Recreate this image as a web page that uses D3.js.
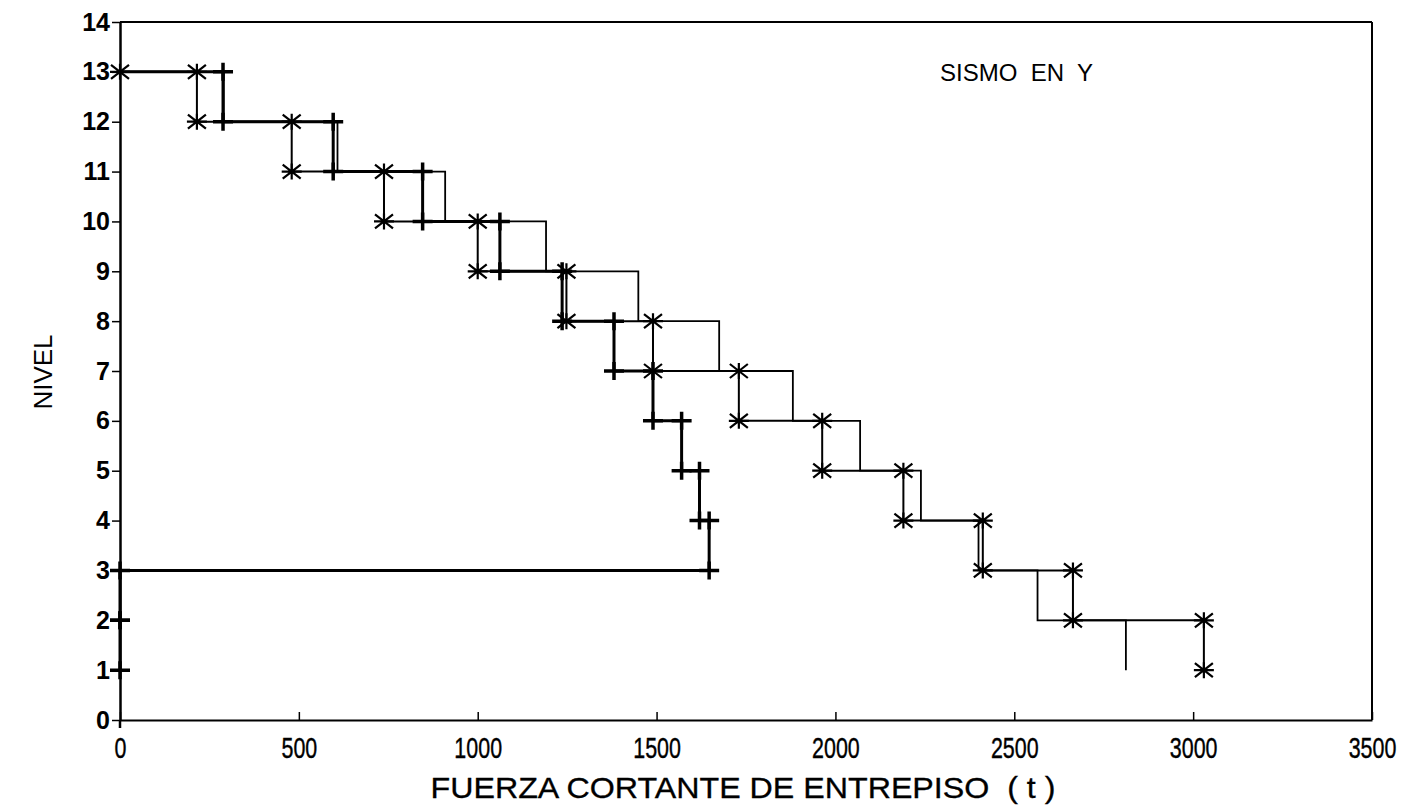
<!DOCTYPE html>
<html>
<head>
<meta charset="utf-8">
<script src="https://cdn.jsdelivr.net/npm/d3@7/dist/d3.min.js"></script>
<style>
  html, body { margin: 0; padding: 0; background: #fff; }
  svg { display: block; }
</style>
</head>
<body>
<svg id="chart" width="1414" height="808"></svg>
<script>
// ---- data ----
const nivelInicial = 13;                       // top level where all curves start
const xTicks = [0, 500, 1000, 1500, 2000, 2500, 3000, 3500];
const yTicks = [0, 1, 2, 3, 4, 5, 6, 7, 8, 9, 10, 11, 12, 13, 14];
// story shear (t) for each story, from level 13 downward (12 stories, ends at level 1)
const cortanteAsterisco = [215, 480, 738, 1000, 1248, 1490, 1730, 1963, 2190, 2412, 2664, 3030];
const cortanteCruz      = [288, 596, 846, 1062, 1236, 1381, 1490, 1570, 1620, 1647, 0, 0];
const cortanteLinea     = [290, 608, 909, 1191, 1449, 1675, 1881, 2069, 2239, 2400, 2565, 2812];

const W = 1414, H = 808;
const svg = d3.select("#chart");
const x = d3.scaleLinear().domain([0, 3500]).range([120, 1372]);
const y = d3.scaleLinear().domain([0, 14]).range([720, 22]);

function steps(vals) {
  const pts = [[0, nivelInicial]];
  vals.forEach((v, i) => {
    const top = nivelInicial - i;
    pts.push([v, top]);
    pts.push([v, top - 1]);
  });
  return pts;
}
const line = d3.line().x(d => x(d[0])).y(d => y(d[1]));

// frame: top and right borders
svg.append("line").attr("x1", x(0)).attr("x2", x(3500)).attr("y1", y(14)).attr("y2", y(14))
  .attr("stroke", "#000").attr("stroke-width", 2);
svg.append("line").attr("x1", x(3500)).attr("x2", x(3500)).attr("y1", y(14)).attr("y2", y(0))
  .attr("stroke", "#000").attr("stroke-width", 2);

// x axis
const gx = svg.append("g").attr("transform", `translate(0,${y(0)})`)
  .call(d3.axisBottom(x).tickValues(xTicks).tickFormat(d3.format("d"))
    .tickSizeInner(-8).tickSizeOuter(0).tickPadding(17));
gx.select(".domain").attr("stroke-width", 2);
gx.selectAll(".tick line").attr("stroke-width", 1.5);
gx.selectAll(".tick text")
  .attr("font-family", "'Liberation Sans', Arial, sans-serif")
  .attr("font-size", 29).attr("fill", "#000")
  .attr("stroke", "#000").attr("stroke-width", 0.4)
  .attr("transform", "scale(0.74,1)");

// y axis
const gy = svg.append("g").attr("transform", `translate(${x(0)},0)`)
  .call(d3.axisLeft(y).tickValues(yTicks).tickSizeInner(8).tickSizeOuter(0).tickPadding(2));
gy.select(".domain").attr("stroke-width", 2.5);
gy.selectAll(".tick line").attr("stroke-width", 1.5);
gy.selectAll(".tick text")
  .attr("font-family", "'Liberation Sans', Arial, sans-serif")
  .attr("font-weight", "bold").attr("font-size", 25).attr("fill", "#000");
// small extension of left axis below zero
svg.append("line").attr("x1", x(0)).attr("x2", x(0)).attr("y1", y(0)).attr("y2", y(0) + 8)
  .attr("stroke", "#000").attr("stroke-width", 2.5);

// series lines
const sA = steps(cortanteAsterisco);
const sB = steps(cortanteCruz);
const sC = steps(cortanteLinea);

svg.append("path").attr("d", line(sC)).attr("fill", "none").attr("stroke", "#000").attr("stroke-width", 1.8);
svg.append("path").attr("d", line(sA)).attr("fill", "none").attr("stroke", "#000").attr("stroke-width", 2);
svg.append("path").attr("d", line(sB)).attr("fill", "none").attr("stroke", "#000").attr("stroke-width", 3);

// asterisk markers
const gA = svg.append("g");
gA.selectAll("path").data(sA).join("path")
  .attr("transform", d => `translate(${x(d[0])},${y(d[1])})`)
  .attr("d", "M-10,0H10M-9,-7L9,7M-9,7L9,-7M0,-8V8")
  .attr("stroke", "#000").attr("stroke-width", 2.2).attr("fill", "none");

// plus markers
const gB = svg.append("g");
gB.selectAll("path").data(sB.slice(1)).join("path")
  .attr("transform", d => `translate(${x(d[0])},${y(d[1])})`)
  .attr("d", "M-10,0H10M0,-9V9")
  .attr("stroke", "#000").attr("stroke-width", 3.5).attr("fill", "none");

// texts
svg.append("text").attr("x", 940).attr("y", 81)
  .attr("font-family", "'Liberation Sans', Arial, sans-serif").attr("font-size", 24)
  .attr("fill", "#000").attr("xml:space", "preserve").style("white-space", "pre")
  .text("SISMO  EN  Y");

svg.append("text").attr("transform", "translate(52,372) rotate(-90)")
  .attr("text-anchor", "middle")
  .attr("font-family", "'Liberation Sans', Arial, sans-serif").attr("font-size", 26)
  .attr("fill", "#000").text("NIVEL");

svg.append("text").attr("x", 743).attr("y", 798).attr("text-anchor", "middle")
  .attr("font-family", "'Liberation Sans', Arial, sans-serif")
  .attr("font-size", 29).attr("fill", "#000").attr("stroke", "#000").attr("stroke-width", 0.3)
  .attr("xml:space", "preserve").style("white-space", "pre")
  .attr("textLength", 625).attr("lengthAdjust", "spacingAndGlyphs")
  .text("FUERZA CORTANTE DE ENTREPISO  ( t )");
</script>
</body>
</html>
